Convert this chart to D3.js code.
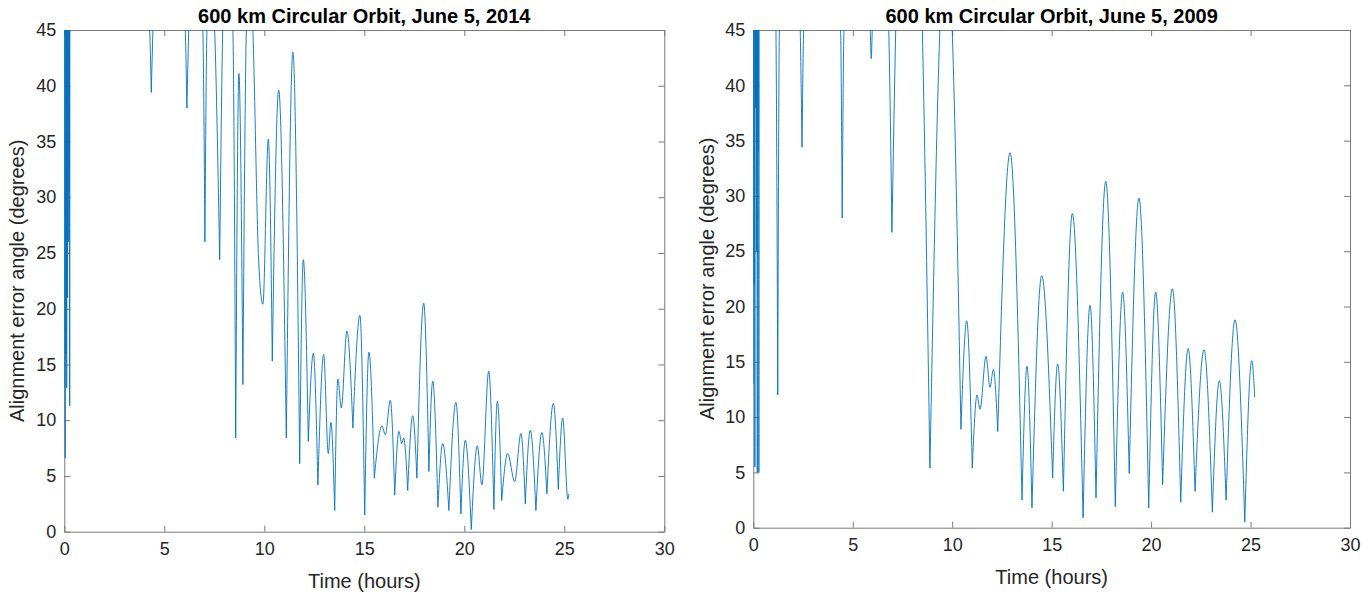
<!DOCTYPE html>
<html>
<head>
<meta charset="utf-8">
<script src="https://cdn.jsdelivr.net/npm/d3@7"></script>
<style>
  html, body { margin: 0; padding: 0; background: #fff; }
  svg { display: block; }
  text { font-family: "Liberation Sans", Arial, Helvetica, sans-serif; fill: #262626; }
</style>
</head>
<body>
<svg id="chart" width="1372" height="597"></svg>
<script>
// ---- data (time in hours, alignment error angle in degrees; values > 45 leave the axes) ----
const titles = ["600 km Circular Orbit, June 5, 2014", "600 km Circular Orbit, June 5, 2009"];
const xLabel = "Time (hours)";
const yLabel = "Alignment error angle (degrees)";
const xTicks = [0, 5, 10, 15, 20, 25, 30];
const yTicks = [0, 5, 10, 15, 20, 25, 30, 35, 40, 45];

const time2014 = [0,0.02,0.04,0.06,0.08,0.10,0.12,0.14,0.16,0.18,0.20,0.22,0.235,0.25,0.27,0.29,
  2.3,4.27,4.35,4.43,5.2,6.05,6.13,6.22,6.55,6.93,7.03,7.13,7.3,7.52,7.77,7.92,8.15,8.43,8.57,8.73,8.93,9.1,9.27,9.43,
  9.72,9.93,10.2,10.4,10.72,11.1,11.43,11.77,11.95,12.2,12.45,12.68,12.97,13.2,13.33,13.52,13.68,13.85,14.13,14.43,
  14.78,15.02,15.23,15.5,15.88,16.05,16.3,16.52,16.73,16.87,16.97,17.17,17.42,17.63,17.97,18.23,18.42,18.68,18.92,
  19.23,19.58,19.83,20.05,20.35,20.65,20.88,21.22,21.48,21.65,21.87,22.17,22.52,22.83,23.05,23.3,23.58,23.88,24.13,
  24.45,24.7,24.92,25.18,25.23];
const angle2014 = [13,80,6.6,80,16,80,12.9,80,21,80,26,80,30.5,80,11.3,80,
  95,45,39.4,45,70,45,38.0,45,60,45,26.0,45,52,45,24.4,45,55,45,8.4,41.1,13.2,45,52,45,
  24.2,20.4,35.2,15.3,39.6,8.4,43.0,6.1,24.4,8.1,16.0,4.2,15.9,7.0,9.8,1.9,13.7,11.1,18.0,9.3,
  19.4,1.5,16.1,4.8,9.5,8.7,11.8,3.3,9.0,7.9,8.4,3.7,10.4,4.8,20.5,5.4,13.5,2.2,7.9,
  1.9,11.6,1.6,8.2,0.2,7.7,4.2,14.4,2.0,11.7,2.8,7.0,4.5,8.8,2.5,9.1,1.9,8.9,3.4,
  11.5,3.8,10.2,2.9,3.4];

const time2009 = [0,0.02,0.04,0.06,0.08,0.10,0.12,0.14,0.16,0.18,0.20,0.22,0.24,0.26,0.28,0.30,
  0.7,1.14,1.23,1.31,1.8,2.36,2.45,2.53,3.4,4.39,4.47,4.56,5.2,5.88,5.93,5.98,6.4,6.81,6.97,7.16,7.8,8.5,8.88,9.38,9.7,10.0,
  10.44,10.73,11.01,11.25,11.4,11.7,11.9,12.07,12.29,12.91,13.51,13.76,14.01,14.5,15.05,15.3,15.59,16.04,16.58,16.93,
  17.23,17.72,18.2,18.57,18.9,19.39,19.88,20.23,20.58,21.07,21.49,21.86,22.21,22.66,23.08,23.43,23.77,24.22,24.71,25.06,25.21];
const angle2009 = [13,80,22,80,5.5,80,38,80,25,80,5,80,34,80,5,80,
  90,45,12.0,45,70,45,34.4,45,80,45,28.0,45,60,45,42.4,45,60,45,26.7,45,75,45,5.4,45,55,45,
  8.9,18.7,5.4,12.0,10.7,15.5,12.7,14.3,8.7,33.9,2.5,14.6,1.8,22.8,4.5,14.8,3.3,28.4,0.9,20.1,
  2.7,31.3,1.9,21.3,4.9,29.8,1.8,21.3,3.9,21.6,2.3,16.2,3.3,16.1,1.4,13.3,2.5,18.8,0.5,15.1,11.8];

// ---- layout ----
const panels = [
  { title: titles[0], t: time2014, v: angle2014, left: 64.3, right: 664.3, top: 30, bottom: 531.7, labelX: 24 },
  { title: titles[1], t: time2009, v: angle2009, left: 753.3, right: 1350, top: 30, bottom: 527.7, labelX: 714 }
];

const svg = d3.select("#chart");
svg.append("rect").attr("width", 1372).attr("height", 597).attr("fill", "#fff");

const lineColor = "#0072BD";
const axisColor = "#7a7a7a";

// split a series into pieces that meet at deep local minima (sharp valleys)
function pieces(pts) {
  const out = [];
  let cur = [pts[0]];
  for (let i = 1; i < pts.length; i++) {
    cur.push(pts[i]);
    const isMin = i < pts.length - 1 &&
      Math.min(pts[i - 1].v - pts[i].v, pts[i + 1].v - pts[i].v) > 4;
    if (isMin) { out.push(cur); cur = [pts[i]]; }
  }
  if (cur.length > 1) out.push(cur);
  return out;
}

panels.forEach((p, idx) => {
  const x = d3.scaleLinear().domain([0, 30]).range([p.left, p.right]);
  const y = d3.scaleLinear().domain([0, 45]).range([p.bottom, p.top]);
  const g = svg.append("g");

  const clipId = "clip" + idx;
  svg.append("clipPath").attr("id", clipId)
    .append("rect")
    .attr("x", p.left).attr("y", p.top)
    .attr("width", p.right - p.left).attr("height", p.bottom - p.top);

  const styleAxis = sel => {
    sel.attr("font-family", null).attr("font-size", null);
    sel.selectAll(".domain").attr("stroke", axisColor).attr("stroke-width", 1);
    sel.selectAll(".tick line").attr("stroke", axisColor).attr("stroke-width", 1);
    sel.selectAll(".tick text").attr("fill", "#262626").style("font-size", "18px");
  };

  g.append("g").attr("transform", `translate(0,${p.bottom})`)
    .call(d3.axisBottom(x).tickValues(xTicks).tickSize(-6).tickSizeOuter(0).tickPadding(11))
    .call(styleAxis);
  g.append("g").attr("transform", `translate(0,${p.top})`)
    .call(d3.axisTop(x).tickValues(xTicks).tickSize(-6).tickSizeOuter(0).tickFormat(""))
    .call(styleAxis);
  g.append("g").attr("transform", `translate(${p.left},0)`)
    .call(d3.axisLeft(y).tickValues(yTicks).tickSize(-6).tickSizeOuter(0).tickPadding(8))
    .call(styleAxis);
  g.append("g").attr("transform", `translate(${p.right},0)`)
    .call(d3.axisRight(y).tickValues(yTicks).tickSize(-6).tickSizeOuter(0).tickFormat(""))
    .call(styleAxis);

  // data line
  const pts = p.t.map((t, i) => ({ t: t, v: p.v[i] }));
  const line = d3.line().x(d => x(d.t)).y(d => y(d.v)).curve(d3.curveMonotoneX);
  const lg = g.append("g").attr("clip-path", `url(#${clipId})`);
  pieces(pts).forEach(seg => {
    lg.append("path").attr("d", line(seg))
      .attr("fill", "none").attr("stroke", lineColor).attr("stroke-width", 0.9)
      .attr("stroke-linejoin", "round");
  });

  const cx = (p.left + p.right) / 2;
  g.append("text").attr("x", cx).attr("y", 23.3)
    .attr("text-anchor", "middle").style("font-size", "20px").style("font-weight", "bold")
    .style("fill", "#000").text(p.title);
  g.append("text").attr("x", cx).attr("y", p.bottom + 56)
    .attr("text-anchor", "middle").style("font-size", "20px").text(xLabel);
  g.append("text")
    .attr("transform", `translate(${p.labelX},${(p.top + p.bottom) / 2}) rotate(-90)`)
    .attr("text-anchor", "middle").style("font-size", "20px").text(yLabel);
});
</script>
</body>
</html>
